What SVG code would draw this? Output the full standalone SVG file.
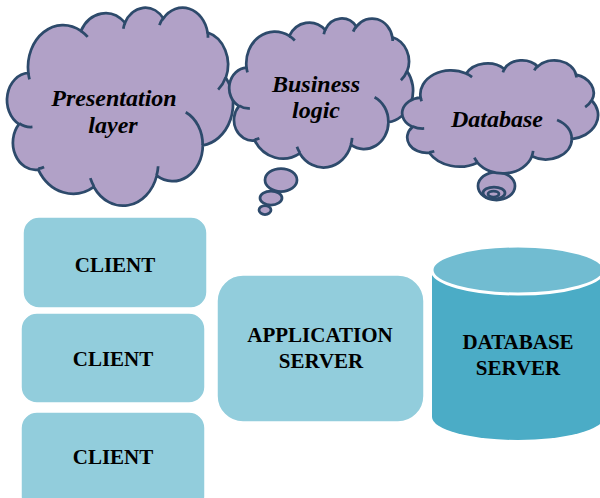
<svg xmlns="http://www.w3.org/2000/svg" xmlns:xlink="http://www.w3.org/1999/xlink" width="600" height="498" viewBox="0 0 600 498">
<style>
.cloud{fill:#B1A1C7;stroke:#2D4A6B;stroke-width:2.75}
.hint{fill:none;stroke:#2D4A6B;stroke-width:2.75}
.bub{fill:#B1A1C7;stroke:#2D4A6B;stroke-width:2.75}
.ct{font-family:"Liberation Serif","Times New Roman",serif;font-weight:bold;font-style:italic;font-size:24px;fill:#000;text-anchor:middle}
.box{fill:#92CDDC;stroke:#FFFFFF;stroke-width:1.5}
.bt{font-family:"Liberation Serif","Times New Roman",serif;font-weight:bold;font-size:21px;fill:#000;text-anchor:middle}
</style>
<defs>
<path id="cloudOut" vector-effect="non-scaling-stroke" d="M39,143.7 A67.53,91.9 0 0 1 140.05,52.02 A53.33,72.67 0 0 1 224.57,34.32 A43.65,59.45 0 0 1 298.35,24.81 A48.57,65.95 0 0 1 383.2,55.78 A53.33,72.73 0 0 1 418.2,154.61 A67.75,92.2 0 0 1 374.05,302.03 A57.85,78.67 0 0 1 285.56,368.13 A67.52,92.15 0 0 1 164.82,392.66 A77.2,105.43 0 0 1 58.06,354.75 A43.6,59.18 0 0 1 21.15,255.53 A43.45,59.45 0 0 1 39,143.7 Z"/>
<path id="cloudHint" vector-effect="non-scaling-stroke" d="M46.93,261.77 A43.45,59.45 0 0 1 21.6,253.8 M69.28,348.99 A43.6,59.18 0 0 1 58.2,352.8 M164.78,390.9 A67.52,92.15 0 0 1 158.09,373.48 M288.27,347.51 A67.52,92.15 0 0 1 285.6,366.6 M341.29,229.54 A57.85,78.67 0 0 1 373.8,300.9 M417.98,153.54 A53.33,72.73 0 0 1 403.5,180.3 M383.24,54.26 A48.57,65.95 0 0 1 384,66.9 M290.78,39.52 A48.57,65.95 0 0 1 298.2,23.4 M221.41,47.2 A43.65,59.45 0 0 1 225,33.3 M140,51.92 A67.53,91.9 0 0 1 153,65.4 M41.27,157.89 A67.53,91.9 0 0 1 39,143.7"/>
</defs>

<g id="presentation-layer">
<use xlink:href="#cloudOut" class="cloud" transform="translate(8,7) scale(0.5208,0.4583)"/>
<use xlink:href="#cloudHint" class="hint" transform="translate(8,7) scale(0.5208,0.4583)"/>
<text class="ct" x="114" y="106">Presentation</text>
<text class="ct" x="113" y="133">layer</text>
</g>

<g id="business-logic">
<ellipse class="bub" cx="281" cy="180" rx="16" ry="11.5"/>
<ellipse class="bub" cx="271" cy="198" rx="11" ry="7"/>
<ellipse class="bub" cx="265" cy="210" rx="6" ry="4.5"/>
<use xlink:href="#cloudOut" class="cloud" transform="translate(230,18) scale(0.4236,0.3449)"/>
<use xlink:href="#cloudHint" class="hint" transform="translate(230,18) scale(0.4236,0.3449)"/>
<text class="ct" x="316" y="92">Business</text>
<text class="ct" x="316" y="118">logic</text>
</g>

<g id="database">
<ellipse class="bub" cx="496.5" cy="186" rx="18.5" ry="14"/>
<ellipse class="bub" cx="494" cy="193" rx="11" ry="6"/>
<ellipse class="bub" cx="493.5" cy="194" rx="5.5" ry="3"/>
<use xlink:href="#cloudOut" class="cloud" transform="translate(403,60) scale(0.4514,0.2616)"/>
<use xlink:href="#cloudHint" class="hint" transform="translate(403,60) scale(0.4514,0.2616)"/>
<text class="ct" x="497" y="127">Database</text>
</g>

<g id="client-1">
<rect class="box" x="23" y="217" width="184" height="91" rx="16"/>
<text class="bt" x="115" y="272">CLIENT</text>
</g>
<g id="client-2">
<rect class="box" x="21" y="313" width="184" height="90" rx="16"/>
<text class="bt" x="113" y="366">CLIENT</text>
</g>
<g id="client-3">
<rect class="box" x="21" y="412" width="184" height="100" rx="16"/>
<text class="bt" x="113" y="464">CLIENT</text>
</g>

<g id="application-server">
<rect class="box" x="217" y="275" width="207" height="147" rx="26"/>
<text class="bt" x="320" y="342">APPLICATION</text>
<text class="bt" x="321" y="368">SERVER</text>
</g>

<g id="database-server">
<path d="M432 270 L432 417 A86 23 0 0 0 604 417 L604 270 Z" fill="#4BACC6"/>
<ellipse cx="518" cy="270" rx="86" ry="24" fill="#71BCD1" stroke="#FFFFFF" stroke-width="3"/>
<text class="bt" x="518" y="349">DATABASE</text>
<text class="bt" x="518" y="375">SERVER</text>
</g>

<g id="connectors"/>
</svg>
